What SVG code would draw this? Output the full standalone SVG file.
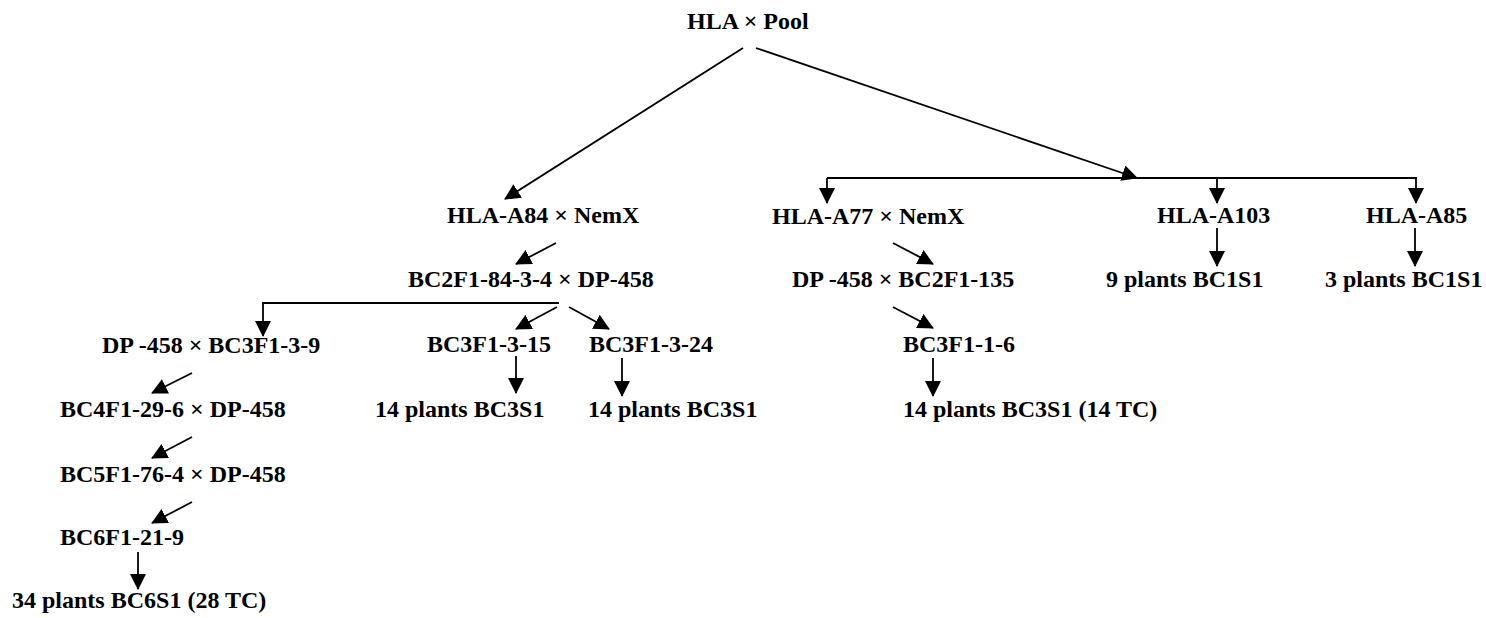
<svg xmlns="http://www.w3.org/2000/svg" width="1486" height="618" viewBox="0 0 1486 618">
<style>
text{font-family:"Liberation Serif","Times New Roman",serif;font-weight:bold;font-size:24px;fill:#000}
.c line{stroke:#000;stroke-width:1.8;fill:none}
.a{marker-end:url(#ah)}
</style>
<defs>
<marker id="ah" markerUnits="userSpaceOnUse" viewBox="0 0 16 16" markerWidth="16" markerHeight="16" refX="15" refY="8" orient="auto">
<path d="M0,0 L16,8 L0,16 z" fill="#000"/>
</marker>
</defs>
<rect width="1486" height="618" fill="#fff"/>
<g id="connectors" class="c">
<line class="a" x1="743" y1="48" x2="505" y2="199"/>
<line class="a" x1="756" y1="48" x2="1137" y2="178"/>
<line x1="827" y1="178" x2="1417" y2="178"/>
<line class="a" x1="827" y1="178" x2="827" y2="203"/>
<line class="a" x1="1217" y1="178" x2="1217" y2="203"/>
<line class="a" x1="1416" y1="178" x2="1416" y2="203"/>
<line class="a" x1="1217" y1="228" x2="1217" y2="266"/>
<line class="a" x1="1415" y1="228" x2="1415" y2="266"/>
<line class="a" x1="556" y1="243" x2="516" y2="264"/>
<line x1="262" y1="303" x2="559" y2="303"/>
<line class="a" x1="263" y1="303" x2="263" y2="336"/>
<line class="a" x1="557" y1="307" x2="516" y2="329"/>
<line class="a" x1="569" y1="307" x2="609" y2="329"/>
<line class="a" x1="516" y1="356" x2="516" y2="393"/>
<line class="a" x1="622" y1="358" x2="622" y2="396"/>
<line class="a" x1="893" y1="243" x2="933" y2="264"/>
<line class="a" x1="893" y1="307" x2="933" y2="328"/>
<line class="a" x1="933" y1="358" x2="933" y2="396"/>
<line class="a" x1="192" y1="373" x2="152" y2="393"/>
<line class="a" x1="192" y1="437" x2="152" y2="458"/>
<line class="a" x1="192" y1="502" x2="152" y2="523"/>
<line class="a" x1="138" y1="552" x2="138" y2="589"/>
</g>
<g id="n-root"><text x="687" y="29">HLA × Pool</text></g>
<g id="n-a84"><text x="447" y="223">HLA-A84 × NemX</text></g>
<g id="n-a77"><text x="772" y="224">HLA-A77 × NemX</text></g>
<g id="n-a103"><text x="1157" y="223">HLA-A103</text></g>
<g id="n-a85"><text x="1366" y="223">HLA-A85</text></g>
<g id="n-bc2f1-84"><text x="408" y="287">BC2F1-84-3-4 × DP-458</text></g>
<g id="n-dp-bc2f1-135"><text x="792" y="287">DP -458 × BC2F1-135</text></g>
<g id="n-9plants"><text x="1106" y="287">9 plants BC1S1</text></g>
<g id="n-3plants"><text x="1325" y="287">3 plants BC1S1</text></g>
<g id="n-dp-bc3f1-3-9"><text x="102" y="353">DP -458 × BC3F1-3-9</text></g>
<g id="n-bc3f1-3-15"><text x="427" y="352">BC3F1-3-15</text></g>
<g id="n-bc3f1-3-24"><text x="589" y="352">BC3F1-3-24</text></g>
<g id="n-bc3f1-1-6"><text x="903" y="352">BC3F1-1-6</text></g>
<g id="n-bc4f1"><text x="60" y="417">BC4F1-29-6 × DP-458</text></g>
<g id="n-14a"><text x="375" y="417">14 plants BC3S1</text></g>
<g id="n-14b"><text x="588" y="417">14 plants BC3S1</text></g>
<g id="n-14c"><text x="903" y="417">14 plants BC3S1 (14 TC)</text></g>
<g id="n-bc5f1"><text x="60" y="482">BC5F1-76-4 × DP-458</text></g>
<g id="n-bc6f1"><text x="60" y="545">BC6F1-21-9</text></g>
<g id="n-34plants"><text x="12" y="608">34 plants BC6S1 (28 TC)</text></g>
</svg>
